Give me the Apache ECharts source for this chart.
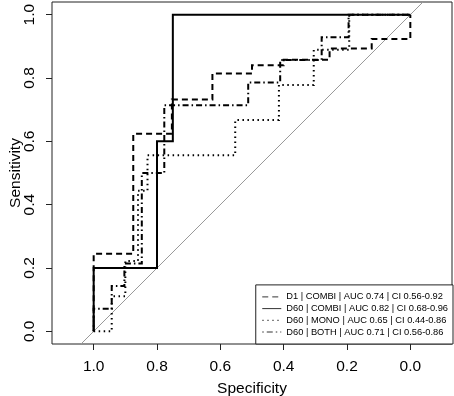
<!DOCTYPE html>
<html>
<head>
<meta charset="utf-8">
<script src="https://cdn.jsdelivr.net/npm/echarts@6/dist/echarts.min.js"></script>
<style>
  html, body { margin: 0; padding: 0; background: #fff; }
  #rocChart { width: 454px; height: 396px; }
</style>
</head>
<body>
<div id="rocChart"></div>
<script>
  // 刻度
  var tickValues = [0, 0.2, 0.4, 0.6, 0.8, 1.0];

  // 图例名称
  var seriesNames = [
    'D1 | COMBI | AUC 0.74 | CI 0.56-0.92',
    'D60 | COMBI | AUC 0.82 | CI 0.68-0.96',
    'D60 | MONO | AUC 0.65 | CI 0.44-0.86',
    'D60 | BOTH | AUC 0.71 | CI 0.56-0.86'
  ];

  // ROC 曲线 [specificity, sensitivity]
  var d1Combi = [[1, 0], [1, 0.245], [0.875, 0.245], [0.875, 0.624], [0.753, 0.624], [0.753, 0.732],
    [0.625, 0.732], [0.625, 0.814], [0.5, 0.814], [0.5, 0.84], [0.4, 0.84], [0.4, 0.858],
    [0.255, 0.858], [0.255, 0.893], [0.122, 0.893], [0.122, 0.923], [0, 0.923], [0, 1]];

  var d60Combi = [[1, 0], [1, 0.2], [0.8, 0.2], [0.8, 0.6], [0.75, 0.6], [0.75, 1], [0, 1]];

  var d60Mono = [[1, 0], [0.943, 0], [0.943, 0.111], [0.9, 0.111], [0.9, 0.222], [0.86, 0.222],
    [0.86, 0.444], [0.83, 0.444], [0.83, 0.556], [0.553, 0.556], [0.553, 0.667], [0.415, 0.667],
    [0.415, 0.778], [0.305, 0.778], [0.305, 0.889], [0.193, 0.889], [0.193, 1], [0, 1]];

  var d60Both = [[1, 0], [1, 0.071], [0.943, 0.071], [0.943, 0.143], [0.903, 0.143], [0.903, 0.214],
    [0.848, 0.214], [0.848, 0.5], [0.777, 0.5], [0.777, 0.714], [0.512, 0.714], [0.512, 0.786],
    [0.411, 0.786], [0.411, 0.857], [0.28, 0.857], [0.28, 0.929], [0.195, 0.929], [0.195, 1], [0, 1]];

  // 对角参考线
  var chanceLine = [[1.04, -0.04], [-0.04, 1.04]];

  var curves = [d1Combi, d60Combi, d60Mono, d60Both];
  var dashTypes = [[6, 4], 'solid', [1.5, 3.5], [1.5, 3, 6, 3]];

  var font = 'Liberation Sans, Arial, sans-serif';

  var myChart = echarts.init(document.getElementById('rocChart'));

  var series = curves.map(function (pts, i) {
    return {
      name: seriesNames[i],
      type: 'line',
      data: pts,
      symbol: 'none',
      z: 3,
      itemStyle: { color: '#000' },
      lineStyle: { color: '#000', width: 2, type: dashTypes[i], cap: 'butt', join: 'miter' }
    };
  });
  series.unshift({
    name: 'chance',
    type: 'line',
    data: chanceLine,
    symbol: 'none',
    silent: true,
    z: 2,
    itemStyle: { color: '#999' },
    lineStyle: { color: '#999', width: 1 }
  });

  var fmt = function (v) { return v.toFixed(1); };

  myChart.setOption({
    animation: false,
    textStyle: { fontFamily: font },
    grid: {
      left: 52,
      right: 2,
      top: 2,
      bottom: 52,
      outerBoundsMode: 'none',
      show: true,
      borderColor: '#222',
      borderWidth: 1
    },
    legend: {
      data: seriesNames,
      orient: 'vertical',
      right: 1,
      bottom: 52,
      padding: [7.5, 5, 7.5, 6],
      itemGap: 2.7,
      itemWidth: 19,
      itemHeight: 9,
      backgroundColor: '#fff',
      borderColor: '#222',
      borderWidth: 1,
      itemStyle: { opacity: 0 },
      lineStyle: { width: 1, color: '#333' },
      textStyle: { fontSize: 9.3, color: '#000', fontFamily: font, lineHeight: 9 }
    },
    xAxis: {
      type: 'value',
      inverse: true,
      min: -0.1316,
      max: 1.1316,
      name: 'Specificity',
      nameLocation: 'middle',
      nameGap: 37,
      nameTextStyle: { fontSize: 15.5, color: '#000', fontFamily: font },
      axisLine: { show: false, onZero: false },
      splitLine: { show: false },
      axisTick: { show: true, length: 6, customValues: tickValues, lineStyle: { color: '#222' } },
      axisLabel: {
        customValues: tickValues,
        margin: 15,
        fontSize: 15.5,
        color: '#000',
        fontFamily: font,
        formatter: fmt
      }
    },
    yAxis: {
      type: 'value',
      min: -0.04,
      max: 1.04,
      name: 'Sensitivity',
      nameLocation: 'middle',
      nameGap: 28,
      nameMoveOverlap: false,
      nameTextStyle: { fontSize: 15.5, color: '#000', fontFamily: font },
      axisLine: { show: false, onZero: false },
      splitLine: { show: false },
      axisTick: { show: true, length: 6, customValues: tickValues, lineStyle: { color: '#222' } },
      axisLabel: {
        customValues: tickValues,
        rotate: 90,
        margin: 14,
        fontSize: 15.5,
        color: '#000',
        fontFamily: font,
        formatter: fmt
      }
    },
    series: series
  });
</script>
</body>
</html>
